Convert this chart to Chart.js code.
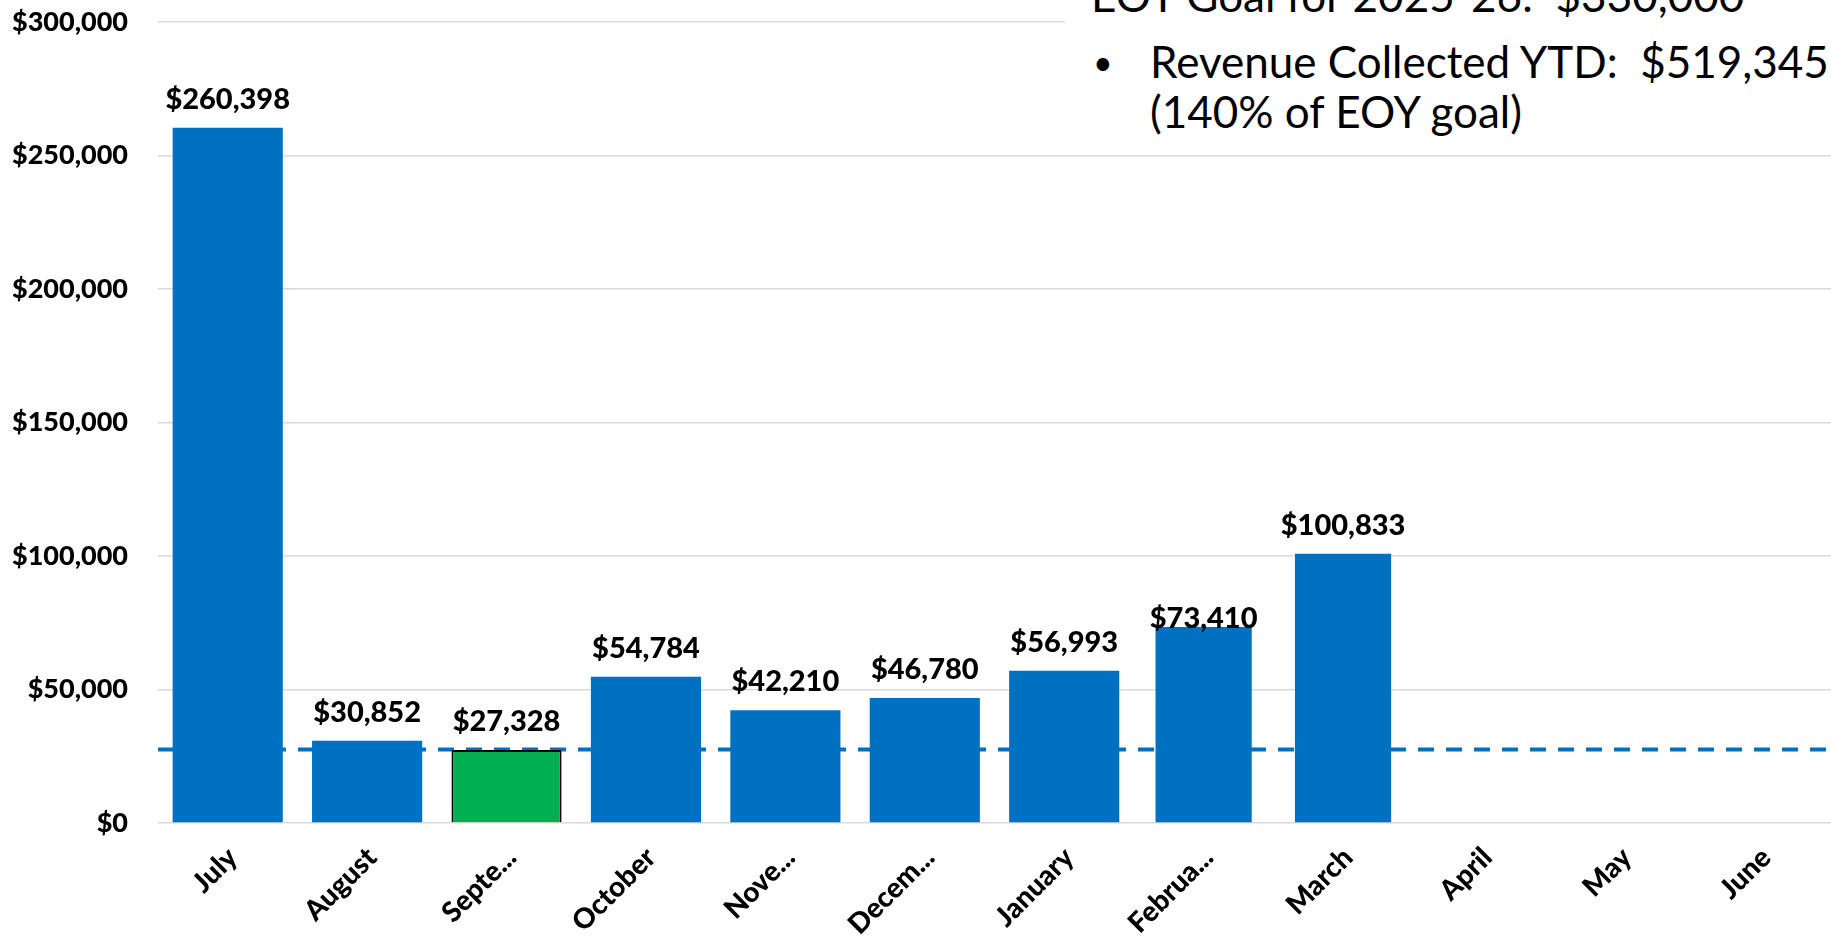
<!DOCTYPE html>
<html>
<head>
<meta charset="utf-8">
<script src="https://cdn.jsdelivr.net/npm/chart.js@4.4.1/dist/chart.umd.min.js"></script>
<style>
  html, body { margin: 0; padding: 0; background: #fff; overflow: hidden; }
  #wrap { position: absolute; left: 0; top: 0; width: 1831px; height: 937px; }
  #note {
    position: absolute; left: 1065px; top: 0; width: 766px; height: 146px;
    background: #fff; overflow: hidden;
    font-family: Lato, sans-serif; font-size: 44px; line-height: 52.8px; color: #000;
  }
  #note div { position: absolute; white-space: pre; }
</style>
</head>
<body>
<div id="wrap"><canvas id="chart" width="1831" height="937"></canvas></div>
<div id="note">
  <div style="left:26px; top:-31px;">EOY Goal for 2025-26:  $330,000</div>
  <div style="left:28px; top:42px; font-size:34px; line-height:40px;">•</div>
  <div style="left:85px; top:35px;">Revenue Collected YTD:  $519,345</div>
  <div style="left:85px; top:85px;">(140% of EOY goal)</div>
</div>
<script>
// ── Data ────────────────────────────────────────────────────────────
const months = ['July', 'August', 'Septe...', 'October', 'Nove...', 'Decem...',
                'January', 'Februa...', 'March', 'April', 'May', 'June'];
const revenue = [260398, 30852, 27328, 54784, 42210, 46780, 56993, 73410, 100833, null, null, null];
const monthlyTarget = 27500;
const yTicks = [0, 50000, 100000, 150000, 200000, 250000, 300000];

const BLUE = '#0070C0';
const GREEN = '#00B050';
const FONT = 'Lato';
const money = v => '$' + Number(v).toLocaleString('en-US');

// Feb / March were drawn a little narrower in the original
const narrow = [7, 8];
const wideData = revenue.map((v, i) => narrow.includes(i) ? null : v);
const narrowData = revenue.map((v, i) => narrow.includes(i) ? v : null);

// ── Value labels above bars ────────────────────────────────────────
const barLabels = {
  id: 'barLabels',
  afterDatasetsDraw(chart) {
    const ctx = chart.ctx;
    ctx.save();
    ctx.font = `900 29px ${FONT}`;
    ctx.fillStyle = '#000';
    ctx.textAlign = 'center';
    ctx.textBaseline = 'alphabetic';
    chart.data.datasets.forEach((ds, di) => {
      if (ds.type === 'line') return;
      chart.getDatasetMeta(di).data.forEach((el, i) => {
        const v = ds.data[i];
        if (v == null) return;
        const nudge = i === 7 ? 20 : 0;   // Feb label sits on the bar in the original
        ctx.fillText(money(v), el.x, el.y - 19 + nudge);
      });
    });
    ctx.restore();
  }
};

const barStyle = {
  backgroundColor: months.map((m, i) => i === 2 ? GREEN : BLUE),
  borderColor: months.map((m, i) => i === 2 ? '#000' : BLUE),
  borderWidth: months.map((m, i) => i === 2 ? 2 : 0),
  grouped: false,
  categoryPercentage: 1,
  order: 1,
};

new Chart(document.getElementById('chart'), {
  type: 'bar',
  data: {
    labels: months,
    datasets: [
      { ...barStyle, label: 'Revenue', data: wideData, barPercentage: 0.79 },
      { ...barStyle, label: 'Revenue ', data: narrowData, barPercentage: 0.69 },
      {
        type: 'line', label: 'Target', xAxisID: 'x2', order: 2,
        data: [{ x: 0, y: monthlyTarget }, { x: 1, y: monthlyTarget }],
        borderColor: BLUE, borderWidth: 4, borderDash: [16, 12],
        pointRadius: 0, fill: false,
      },
    ],
  },
  options: {
    responsive: false,
    animation: false,
    devicePixelRatio: 1,
    layout: { padding: { top: 22, left: 0, right: 0, bottom: 0 } },
    plugins: { legend: { display: false }, tooltip: { enabled: false } },
    scales: {
      x: {
        grid: { display: false },
        border: { display: false },
        ticks: {
          autoSkip: false, minRotation: 45, maxRotation: 45, padding: 10, labelOffset: 5,
          color: '#000', font: { family: FONT, size: 28, weight: '900' },
        },
        afterFit: s => { s.height = 114; s.paddingLeft = 0; s.paddingRight = 0; },
      },
      x2: {
        type: 'linear', position: 'bottom', min: 0, max: 1, offset: false,
        grid: { display: false, offset: false }, border: { display: false }, ticks: { display: false },
        afterFit: s => { s.height = 0; s.paddingLeft = 0; s.paddingRight = 0; },
      },
      y: {
        min: 0, max: 300000,
        afterBuildTicks: s => { s.ticks = yTicks.map(v => ({ value: v })); },
        grid: { color: '#d9d9d9', lineWidth: 1.5, drawTicks: false },
        border: { display: false },
        ticks: {
          padding: 30, color: '#000',
          font: { family: FONT, size: 27, weight: '900' },
          callback: v => money(v),
        },
        afterFit: s => { s.width = 158; s.paddingTop = 0; s.paddingBottom = 0; },
      },
    },
  },
  plugins: [barLabels],
});
</script>
</body>
</html>
